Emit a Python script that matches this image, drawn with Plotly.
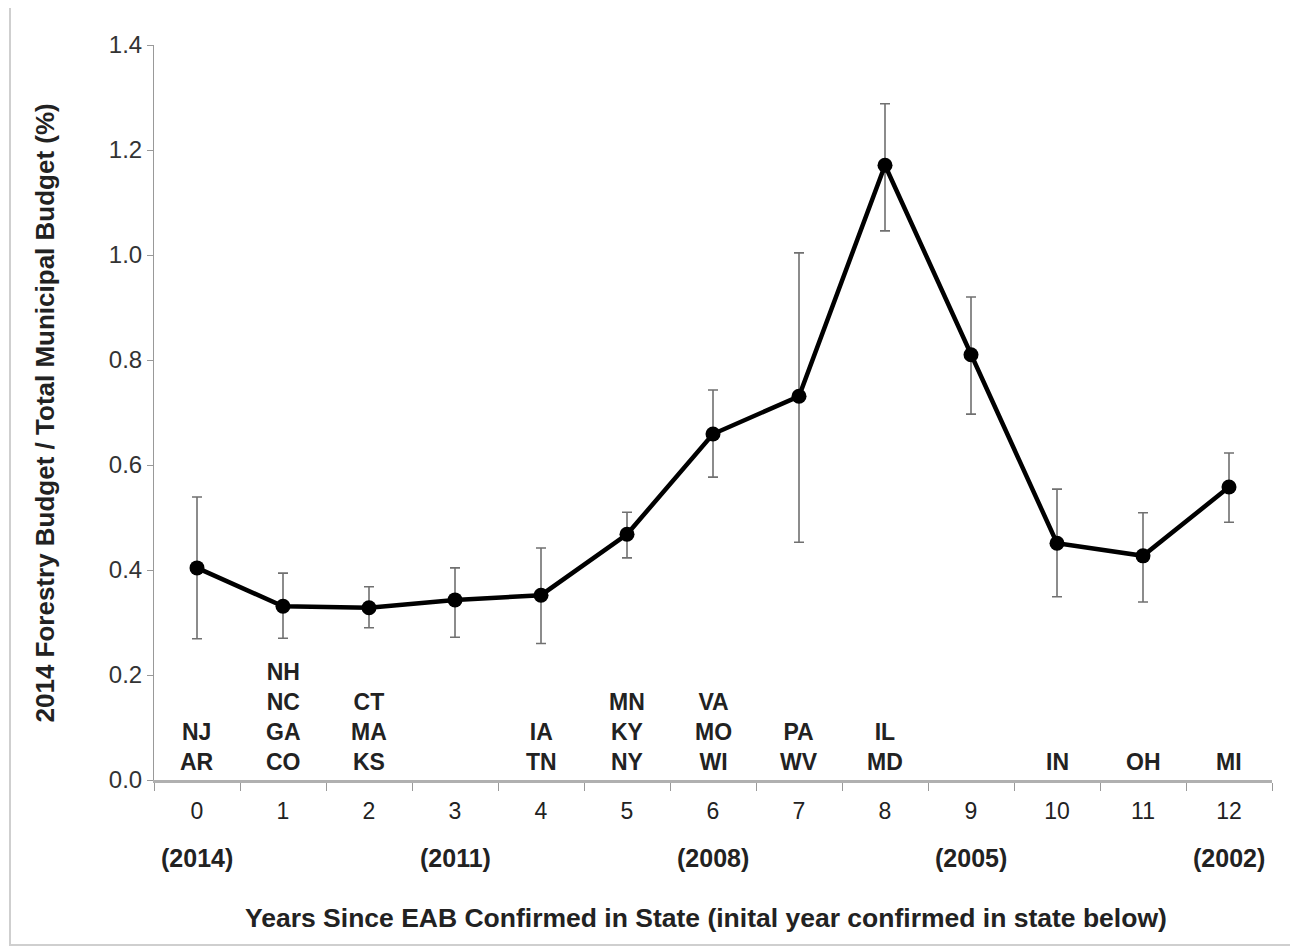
import plotly.graph_objects as go

years = ["0", "1", "2", "3", "4", "5", "6", "7", "8", "9", "10", "11", "12"]
ratio = [0.404, 0.331, 0.328, 0.343, 0.352, 0.468, 0.659, 0.731, 1.171, 0.810, 0.451, 0.427, 0.558]
err_plus = [0.135, 0.063, 0.040, 0.061, 0.090, 0.042, 0.084, 0.273, 0.117, 0.110, 0.103, 0.082, 0.065]
err_minus = [0.135, 0.061, 0.038, 0.071, 0.092, 0.045, 0.082, 0.278, 0.125, 0.113, 0.102, 0.088, 0.067]
states = ["NJ<br>AR", "NH<br>NC<br>GA<br>CO", "CT<br>MA<br>KS", "", "IA<br>TN", "MN<br>KY<br>NY",
          "VA<br>MO<br>WI", "PA<br>WV", "IL<br>MD", "", "IN", "OH", "MI"]
year_cats = ["0", "3", "6", "9", "12"]
year_labels = ["(2014)", "(2011)", "(2008)", "(2005)", "(2002)"]

FONT = "Liberation Sans, Arial, sans-serif"

fig = go.Figure()
fig.add_trace(go.Scatter(
    x=years, y=ratio, mode="lines+markers",
    line=dict(color="black", width=4.5),
    marker=dict(color="black", size=15),
    error_y=dict(type="data", symmetric=False, array=err_plus, arrayminus=err_minus,
                 color="#707070", thickness=1.6, width=5),
    showlegend=False,
))

annotations = []
for cat, s in zip(years, states):
    if s:
        annotations.append(dict(x=cat, y=0, xref="x", yref="y", text="<b>" + s + "</b>",
                                showarrow=False, yanchor="bottom", yshift=3,
                                font=dict(family=FONT, size=23, color="#222"), align="center"))
for cat, s in zip(year_cats, year_labels):
    annotations.append(dict(x=cat, y=-0.106, xref="x", yref="paper", text="<b>" + s + "</b>",
                            showarrow=False, yanchor="middle",
                            font=dict(family=FONT, size=25, color="#222")))
annotations.append(dict(x=0.494, y=-0.188, xref="paper", yref="paper",
                        text="<b>Years Since EAB Confirmed in State (inital year confirmed in state below)</b>",
                        showarrow=False, yanchor="middle", xanchor="center",
                        font=dict(family=FONT, size=26.5, color="#222")))
annotations.append(dict(x=-0.0975, y=0.5, xref="paper", yref="paper", textangle=-90,
                        text="<b>2014 Forestry Budget / Total Municipal Budget (%)</b>",
                        showarrow=False, xanchor="center", yanchor="middle",
                        font=dict(family=FONT, size=26, color="#222")))

fig.update_layout(
    width=1290, height=941,
    margin=dict(l=146, r=26, t=37, b=169),
    paper_bgcolor="white", plot_bgcolor="white",
    font=dict(family=FONT, size=23, color="#333"),
    annotations=annotations,
    shapes=[dict(type="rect", xref="paper", yref="paper",
                 x0=(10 - 154) / 1118, x1=(1293 - 154) / 1118,
                 y0=(780 - 945) / 735, y1=(780 - 5) / 735,
                 line=dict(color="#cfcfcf", width=2), fillcolor="rgba(0,0,0,0)", layer="below")],
    xaxis=dict(type="category", tickson="boundaries", ticks="outside", ticklen=8,
               tickcolor="#999", showline=True, linecolor="#b0b0b0", linewidth=3,
               showgrid=False, zeroline=False, tickfont=dict(size=23, color="#222"),
               ticklabelstandoff=8, range=[-0.5, 12.5]),
    yaxis=dict(range=[0, 1.4], tickvals=[0, 0.2, 0.4, 0.6, 0.8, 1.0, 1.2, 1.4],
               ticktext=["0.0", "0.2", "0.4", "0.6", "0.8", "1.0", "1.2", "1.4"],
               ticks="outside", ticklen=6, tickcolor="#999", showline=True,
               linecolor="#999", linewidth=1, showgrid=False, zeroline=False,
               tickfont=dict(size=24, color="#333")),
)

fig.write_html("out.html")
